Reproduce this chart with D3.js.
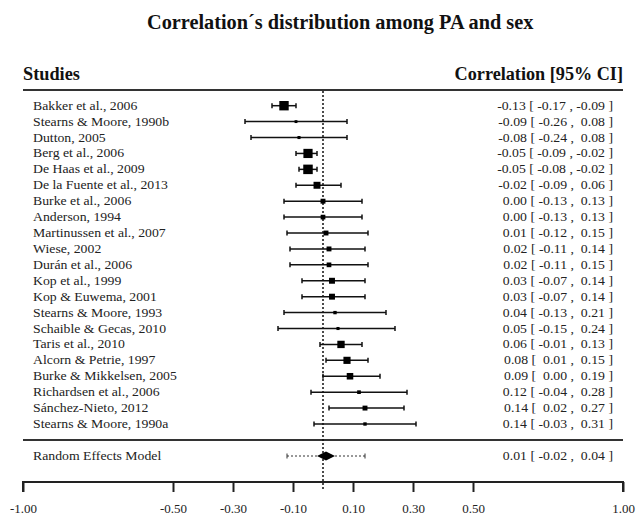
<!DOCTYPE html>
<html>
<head>
<meta charset="utf-8">
<script src="https://cdn.jsdelivr.net/npm/d3@7"></script>
<style>
  body { margin: 0; background: #fff; }
  svg { font-family: "Liberation Serif", "Times New Roman", serif; }
</style>
</head>
<body>
<svg width="636" height="519"></svg>
<script>
var studies = [
    "Bakker et al., 2006", "Stearns & Moore, 1990b", "Dutton, 2005", "Berg et al., 2006",
    "De Haas et al., 2009", "De la Fuente et al., 2013", "Burke et al., 2006", "Anderson, 1994",
    "Martinussen et al., 2007", "Wiese, 2002", "Durán et al., 2006", "Kop et al., 1999",
    "Kop & Euwema, 2001", "Stearns & Moore, 1993", "Schaible & Gecas, 2010", "Taris et al., 2010",
    "Alcorn & Petrie, 1997", "Burke & Mikkelsen, 2005", "Richardsen et al., 2006",
    "Sánchez-Nieto, 2012", "Stearns & Moore, 1990a"
];
var estimates = [-0.13, -0.09, -0.08, -0.05, -0.05, -0.02, 0.00, 0.00, 0.01, 0.02, 0.02, 0.03, 0.03, 0.04, 0.05, 0.06, 0.08, 0.09, 0.12, 0.14, 0.14];
var lower = [-0.17, -0.26, -0.24, -0.09, -0.08, -0.09, -0.13, -0.13, -0.12, -0.11, -0.11, -0.07, -0.07, -0.13, -0.15, -0.01, 0.01, 0.00, -0.04, 0.02, -0.03];
var upper = [-0.09, 0.08, 0.08, -0.02, -0.02, 0.06, 0.13, 0.13, 0.15, 0.14, 0.15, 0.14, 0.14, 0.21, 0.24, 0.13, 0.15, 0.19, 0.28, 0.27, 0.31];
var weights = [9.2, 2.8, 3.0, 9.0, 9.3, 6.8, 4.8, 4.6, 4.8, 4.8, 4.6, 5.8, 5.8, 3.3, 3.0, 7.2, 7.0, 6.4, 3.6, 4.8, 3.3];

var reLabel = "Random Effects Model";
var reEstimate = 0.01, reLower = -0.02, reUpper = 0.04;
var predLower = -0.12, predUpper = 0.14;

var tickValues = [-1, -0.5, -0.3, -0.1, 0.1, 0.3, 0.5, 1];

var svg = d3.select("svg");
var x = d3.scaleLinear().domain([-1, 1]).range([23, 623]);
var y = d3.scalePoint().domain(d3.range(studies.length)).range([105.7, 424]);
var size = d3.scaleLinear().domain([0, d3.max(weights)]).range([0, 9.5]);
var reY = 456;
var f2 = d3.format(".2f");
function fmt(v) { return f2(v).replace("\u2212", "-"); }
function pad(v) { return (v < 0 ? "" : "\u00a0") + fmt(v); }
function ci(e, l, u) { return pad(e) + " [ " + pad(l) + " , " + pad(u) + " ]"; }

// the reference type is a bit wider than Times at its height
var sx = 1.13;
function label(px, py, txt, anchor) {
    return svg.append("text")
        .attr("transform", "translate(" + px + "," + py + ") scale(" + sx + ",1)")
        .attr("text-anchor", anchor || "start")
        .attr("font-size", 12.2).attr("fill", "#222")
        .style("white-space", "pre")
        .text(txt);
}

// title and headers
svg.append("text").attr("x", 147).attr("y", 28.5)
    .attr("font-size", 20.3).attr("font-weight", "bold").attr("fill", "#111")
    .text("Correlation\u00b4s distribution among PA and sex");
svg.append("text").attr("x", 23).attr("y", 80).attr("font-size", 18.3).attr("font-weight", "bold").attr("fill", "#111").text("Studies");
svg.append("text").attr("x", 623).attr("y", 80).attr("text-anchor", "end")
    .attr("font-size", 18.2).attr("font-weight", "bold").attr("fill", "#111").text("Correlation [95% CI]");

// horizontal rules
[90, 440].forEach(function (yy) {
    svg.append("line").attr("x1", x(-1)).attr("x2", x(1)).attr("y1", yy).attr("y2", yy)
        .attr("stroke", "#333").attr("stroke-width", 2);
});

// reference line at 0
svg.append("line").attr("x1", x(0)).attr("x2", x(0)).attr("y1", 91).attr("y2", 489)
    .attr("stroke", "#111").attr("stroke-width", 1.5).attr("stroke-dasharray", "2,2");

studies.forEach(function (s, i) {
    label(33, y(i) + 4, s);
    label(613, y(i) + 4, ci(estimates[i], lower[i], upper[i]), "end");
});

var rows = svg.append("g").selectAll("g").data(studies).enter().append("g");

rows.append("line")
    .attr("x1", function (d, i) { return x(lower[i]); })
    .attr("x2", function (d, i) { return x(upper[i]); })
    .attr("y1", function (d, i) { return y(i); })
    .attr("y2", function (d, i) { return y(i); })
    .attr("stroke", "#111").attr("stroke-width", 1.5);

rows.each(function (d, i) {
    var g = d3.select(this);
    [lower[i], upper[i]].forEach(function (v) {
        g.append("line").attr("x1", x(v)).attr("x2", x(v))
            .attr("y1", y(i) - 2.5).attr("y2", y(i) + 2.5)
            .attr("stroke", "#111").attr("stroke-width", 1.5);
    });
});

rows.append("rect")
    .attr("x", function (d, i) { return x(estimates[i]) - size(weights[i]) / 2; })
    .attr("y", function (d, i) { return y(i) - size(weights[i]) / 2; })
    .attr("width", function (d, i) { return size(weights[i]); })
    .attr("height", function (d, i) { return size(weights[i]); })
    .attr("fill", "#000");

// random effects summary
label(33, reY + 4, reLabel);
label(613, reY + 4, ci(reEstimate, reLower, reUpper), "end");
svg.append("line").attr("x1", x(predLower)).attr("x2", x(predUpper)).attr("y1", reY).attr("y2", reY)
    .attr("stroke", "#333").attr("stroke-width", 1).attr("stroke-dasharray", "2,2");
[predLower, predUpper].forEach(function (v) {
    svg.append("line").attr("x1", x(v)).attr("x2", x(v)).attr("y1", reY - 2.5).attr("y2", reY + 2.5)
        .attr("stroke", "#333").attr("stroke-width", 1);
});
svg.append("path")
    .attr("d", d3.line()([[x(reLower), reY], [x(reEstimate), reY - 4.5], [x(reUpper), reY], [x(reEstimate), reY + 4.5]]) + "Z")
    .attr("fill", "#000");

// axis
var axis = d3.axisBottom(x).tickValues(tickValues).tickFormat(fmt).tickSize(10).tickPadding(12);
var ax = svg.append("g").attr("transform", "translate(0,482)").call(axis);
ax.select(".domain").attr("stroke", "#222").attr("stroke-width", 2).attr("d", "M" + x(-1) + ",10V0H" + x(1) + "V10");
ax.selectAll(".tick line").attr("stroke", "#222").attr("stroke-width", 2);
ax.selectAll(".tick text")
    .attr("font-family", "Liberation Serif, serif").attr("font-size", 13).attr("fill", "#222");
</script>
</body>
</html>
